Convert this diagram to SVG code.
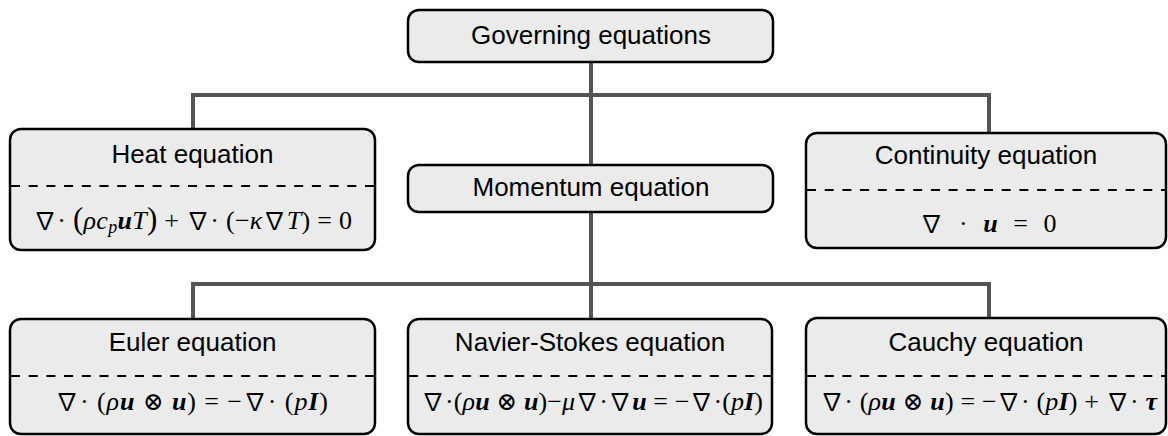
<svg xmlns="http://www.w3.org/2000/svg" width="1168" height="436" viewBox="0 0 1168 436">
<style>
.box{fill:#ebebeb;stroke:#000;stroke-width:2.5}
.dash{stroke:#000;stroke-width:2;stroke-dasharray:9 8.7;fill:none}
.conn{stroke:#555;stroke-width:4;fill:none;stroke-linejoin:miter;stroke-linecap:butt}
.t{font-family:"Liberation Sans",Arial,sans-serif;font-size:26px;fill:#000;text-anchor:middle}
.eq{font-family:"Liberation Serif","DejaVu Serif",serif;font-size:26px;fill:#000;text-anchor:middle}
.i{font-style:italic}
.b{font-style:italic;font-weight:bold}
.n{font-family:"Noto Sans CJK JP","DejaVu Serif",serif;font-size:24px}
.o{font-family:"DejaVu Serif",serif;font-size:25px}
</style>
<rect width="1168" height="436" fill="#fff"/>
<g id="connectors">
<path class="conn" d="M591 62V95M193 129V95H989V133M591 95V165"/>
<path class="conn" d="M591 212V284M193 319V284H989V318M591 284V319"/>
</g>
<g id="governing">
<rect class="box" x="408" y="10" width="365" height="52" rx="11"/>
<text class="t" x="591" y="44">Governing equations</text>
</g>
<g id="heat">
<rect class="box" x="10" y="129" width="365" height="121" rx="11"/>
<text class="t" x="192.5" y="163">Heat equation</text>
<line class="dash" x1="11" y1="186" x2="374" y2="186"/>
<text class="eq" x="192.5" y="229" textLength="319" lengthAdjust="spacing"><tspan class="n">∇</tspan>· <tspan font-size="31">(</tspan><tspan class="i">ρc</tspan><tspan class="i" font-size="18" dy="4">p</tspan><tspan class="b" dy="-4">u</tspan><tspan class="i">T</tspan><tspan font-size="31">)</tspan> + <tspan class="n">∇</tspan>· (−<tspan class="i">κ</tspan><tspan class="n">∇</tspan><tspan class="i">T</tspan>) = 0</text>
</g>
<g id="momentum">
<rect class="box" x="408" y="165" width="365" height="47" rx="11"/>
<text class="t" x="591" y="196">Momentum equation</text>
</g>
<g id="continuity">
<rect class="box" x="806" y="133" width="360" height="115" rx="11"/>
<text class="t" x="986" y="164">Continuity equation</text>
<line class="dash" x1="807" y1="190" x2="1165" y2="190"/>
<text class="eq" x="988" y="232" textLength="137" lengthAdjust="spacing"><tspan class="n">∇</tspan> · <tspan class="b">u</tspan> = 0</text>
</g>
<g id="euler">
<rect class="box" x="10" y="319" width="365" height="115" rx="11"/>
<text class="t" x="192.5" y="351">Euler equation</text>
<line class="dash" x1="11" y1="376" x2="374" y2="376"/>
<text class="eq" x="191.5" y="410" textLength="273" lengthAdjust="spacing"><tspan class="n">∇</tspan>· (<tspan class="i">ρ</tspan><tspan class="b">u</tspan> <tspan class="o">⊗</tspan> <tspan class="b">u</tspan>) = −<tspan class="n">∇</tspan>· (<tspan class="i">p</tspan><tspan class="b">I</tspan>)</text>
</g>
<g id="navier">
<rect class="box" x="408" y="319" width="364" height="115" rx="11"/>
<text class="t" x="590" y="351">Navier-Stokes equation</text>
<line class="dash" x1="409" y1="376" x2="771" y2="376"/>
<text class="eq" x="592" y="410" textLength="342" lengthAdjust="spacing"><tspan class="n">∇</tspan>·(<tspan class="i">ρ</tspan><tspan class="b">u</tspan> <tspan class="o">⊗</tspan> <tspan class="b">u</tspan>)−<tspan class="i">μ</tspan><tspan class="n">∇</tspan>·<tspan class="n">∇</tspan><tspan class="b">u</tspan> = −<tspan class="n">∇</tspan>·(<tspan class="i">p</tspan><tspan class="b">I</tspan>)</text>
</g>
<g id="cauchy">
<rect class="box" x="806" y="318" width="360" height="116" rx="11"/>
<text class="t" x="986" y="351">Cauchy equation</text>
<line class="dash" x1="807" y1="376" x2="1165" y2="376"/>
<text class="eq" x="988.5" y="410" textLength="337" lengthAdjust="spacing"><tspan class="n">∇</tspan>· (<tspan class="i">ρ</tspan><tspan class="b">u</tspan> <tspan class="o">⊗</tspan> <tspan class="b">u</tspan>) = −<tspan class="n">∇</tspan>· (<tspan class="i">p</tspan><tspan class="b">I</tspan>) + <tspan class="n">∇</tspan>· <tspan class="b">τ</tspan></text>
</g>
</svg>
